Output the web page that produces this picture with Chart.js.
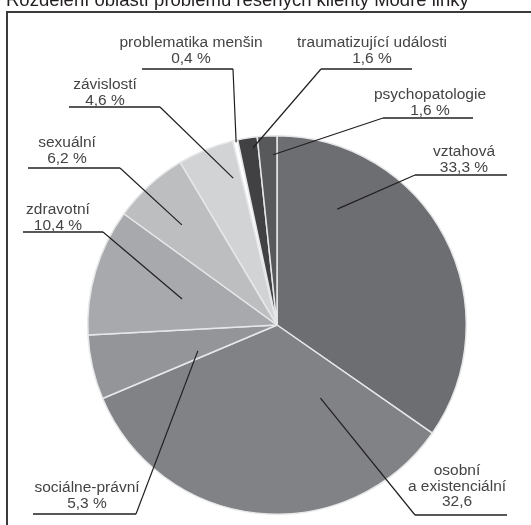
<!DOCTYPE html>
<html>
<head>
<meta charset="utf-8">
<script src="https://cdn.jsdelivr.net/npm/chart.js@4.4.1/dist/chart.umd.min.js"></script>
<style>
  html, body { margin: 0; padding: 0; background: #fff; }
  #wrap { width: 531px; height: 525px; }
</style>
</head>
<body>
<div id="wrap"><canvas id="piechart" width="531" height="525"></canvas></div>
<script>
const title = 'Rozdělení oblastí problémů řešených klienty Modré linky';
const categories = ['vztahová', 'osobní\na existenciální', 'sociálne-právní', 'zdravotní', 'sexuální',
  'závislostí', 'problematika menšin', 'traumatizující události', 'psychopatologie'];
const values = [33.3, 32.6, 5.3, 10.4, 6.2, 4.6, 0.4, 1.6, 1.6];
const valueLabels = ['33,3 %', '32,6', '5,3 %', '10,4 %', '6,2 %', '4,6 %', '0,4 %', '1,6 %', '1,6 %'];
const colors = ['#6d6e71', '#808285', '#939598', '#a7a9ac', '#bcbec0', '#d1d3d4', '#ffffff', '#414042', '#58595b'];

// label placement: text centre, first text line y, underline y and x range,
// which end of the underline the leader starts from, and where it points inside the slice
const callouts = [
  {tx: 464, ty: 152, ly: 175, x1: 415, x2: 507, side: 'left',  t: 0.22, f: 0.69},
  {tx: 457, ty: 471, ly: 515, x1: 415, x2: 507, side: 'left',  t: 0.20, f: 0.45},
  {tx: 87,  ty: 488, ly: 514, x1: 33,  x2: 136, side: 'right', t: 0.24, f: 0.44},
  {tx: 58,  ty: 210, ly: 232, x1: 23,  x2: 103, side: 'right', t: 0.47, f: 0.52},
  {tx: 67,  ty: 143, ly: 168, x1: 28,  x2: 120, side: 'right', t: 0.45, f: 0.73},
  {tx: 105, ty: 85,  ly: 107, x1: 69,  x2: 160, side: 'right', t: 0.82, f: 0.81},
  {tx: 191, ty: 43,  ly: 69,  x1: 142, x2: 233, side: 'right', t: 0.60, f: 0.99},
  {tx: 372, ty: 43,  ly: 69,  x1: 321, x2: 412, side: 'left',  t: 0.72, f: 0.945},
  {tx: 430, ty: 95,  ly: 118, x1: 383, x2: 473, side: 'left',  t: 0.78, f: 0.90}
];

const frame = {
  id: 'frame',
  beforeDraw(chart) {
    const ctx = chart.ctx;
    ctx.save();
    ctx.fillStyle = '#fff';
    ctx.fillRect(0, 0, chart.width, chart.height);
    ctx.strokeStyle = '#3a3a3a';
    ctx.lineWidth = 2;
    ctx.strokeRect(7, 12, chart.width + 20, chart.height + 20);
    ctx.fillStyle = '#231f20';
    ctx.font = '18.5px "Liberation Sans", Arial, sans-serif';
    ctx.textAlign = 'left';
    ctx.textBaseline = 'alphabetic';
    ctx.fillText(title, 6, 6);
    ctx.restore();
  }
};

const callout = {
  id: 'callout',
  afterDatasetsDraw(chart) {
    const ctx = chart.ctx;
    const meta = chart.getDatasetMeta(0);
    ctx.save();
    meta.data.forEach((arc, i) => {
      const c = callouts[i];
      const p = arc.getProps(['x', 'y', 'startAngle', 'endAngle', 'outerRadius'], true);
      const a = p.startAngle + (p.endAngle - p.startAngle) * c.t;
      const px = p.x + Math.cos(a) * p.outerRadius * c.f;
      const py = p.y + Math.sin(a) * p.outerRadius * c.f;
      const ex = c.side === 'left' ? c.x1 : c.x2;

      ctx.strokeStyle = '#231f20';
      ctx.lineWidth = 1.6;
      ctx.beginPath();
      ctx.moveTo(c.x1, c.ly);
      ctx.lineTo(c.x2, c.ly);
      ctx.stroke();

      ctx.lineWidth = 1.2;
      ctx.beginPath();
      ctx.moveTo(ex, c.ly);
      ctx.lineTo(px, py);
      ctx.stroke();

      const lines = categories[i].split('\n').concat([valueLabels[i]]);
      ctx.fillStyle = '#444444';
      ctx.font = '15.5px "Liberation Sans", Arial, sans-serif';
      ctx.textAlign = 'center';
      ctx.textBaseline = 'middle';
      lines.forEach((s, k) => ctx.fillText(s, c.tx, c.ty + k * 15.5));
    });
    ctx.restore();
  }
};

const ctx = document.getElementById('piechart');
new Chart(ctx, {
  type: 'pie',
  data: {
    labels: categories,
    datasets: [{
      data: values,
      backgroundColor: colors,
      borderColor: '#e6e7e8',
      borderWidth: 1.5
    }]
  },
  options: {
    responsive: false,
    animation: false,
    devicePixelRatio: 1,
    layout: {
      padding: {left: 87, right: 64, top: 135, bottom: 10}
    },
    plugins: {
      legend: {display: false},
      tooltip: {enabled: false}
    }
  },
  plugins: [frame, callout]
});
</script>
</body>
</html>
